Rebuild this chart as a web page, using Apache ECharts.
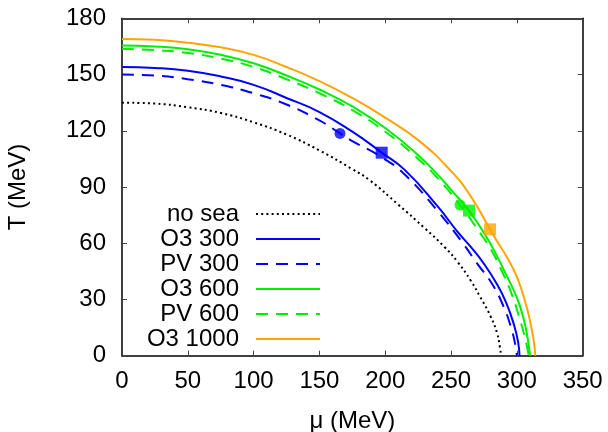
<!DOCTYPE html>
<html>
<head>
<meta charset="utf-8">
<script src="https://cdn.jsdelivr.net/npm/echarts@6/dist/echarts.min.js"></script>
<style>
  html, body { margin: 0; padding: 0; background: #fff; }
  #chart { width: 608px; height: 432px; }
</style>
</head>
<body>
<div id="chart"></div>
<script>
// Transition lines T(mu), points as [mu (MeV), T (MeV)]
const noSea = [[0,135],[25,134.5],[50,132.5],[75,129.5],[100,124.5],[125,118],[150,109.5],[175,99.5],[188,93.7],[210,80.5],[230,68],[245,58],[255,50],[265,40],[272,31.5],[280,21],[285,12],[287,5],[288,0]];
const o3_300 = [[0,154],[25,153.5],[50,152],[75,149],[100,144.5],[125,137.5],[150,130],[175,119.5],[197,108.5],[215,99],[240,79.5],[255,66],[265,58],[275,49],[285,38],[292,28],[298,16],[301,7],[302,0]];
const pv_300 = [[0,150],[25,149.5],[50,147.5],[75,144.5],[100,140],[125,134],[150,125.5],[165.6,118.6],[175,114.5],[197,106],[215,96.5],[240,77],[259,60],[270,49],[281,38.5],[290,26],[296,14],[299,5],[300,0]];
const o3_600 = [[0,165.5],[25,165],[50,163.5],[75,160.5],[100,156],[125,149.5],[150,142],[175,133],[200,121.5],[225,107],[240,96.5],[250,88.5],[263.6,77.4],[278,62],[285,53],[292,43],[300,31],[305,20],[308,10],[310,0]];
const pv_600 = [[0,163.7],[25,163],[50,161.5],[75,158.5],[100,154],[125,147.5],[150,140],[175,131],[200,119.5],[225,105],[240,94.5],[256.8,80.4],[270,67.5],[280,57],[288,46],[296,33],[302,20],[306,10],[309,0]];
const o3_1000 = [[0,169],[25,168.5],[50,167],[75,164.5],[100,160.5],[125,154],[150,146.5],[175,137.5],[200,127],[225,115],[250,98.5],[265,85],[279.6,67.4],[285,61],[292,53],[300,42],[307,27],[311,15],[313,7],[314,0]];

// Critical end points
const cepPV300 = [165.6, 118.6];
const cepO3300 = [197.3, 108.3];
const cepPV600 = [256.8, 80.4];
const cepO3600 = [263.6, 77.4];
const cepO31000 = [279.6, 67.4];

const legendNames = ['no sea', 'O3 300', 'PV 300', 'O3 600', 'PV 600', 'O3 1000'];

const BLUE = '#0000ff';
const GREEN = '#00ee00';
const ORANGE = '#ffa500';
const FONT = 'Liberation Sans';
const DASH = [12, 8];
const DOT = [2, 3.2];

function line(name, data, color, type, width) {
  return {
    name: name, type: 'line', data: data,
    xAxisIndex: 0, yAxisIndex: 0,
    symbol: 'none', smooth: 0.5,
    lineStyle: { color: color, width: width || 2, type: type || 'solid', cap: 'butt' },
    itemStyle: { color: color },
    z: 2
  };
}
function marker(data, color, shape, size) {
  return {
    type: 'scatter', data: [data],
    xAxisIndex: 0, yAxisIndex: 0,
    symbol: shape, symbolSize: size,
    itemStyle: { color: color },
    z: 5, silent: true
  };
}

const axisCommon = {
  type: 'value',
  axisLine: { show: true, onZero: false, lineStyle: { color: '#000', width: 1.5 } },
  axisTick: { show: true, inside: true, length: 5, lineStyle: { color: '#444', width: 1 } },
  splitLine: { show: false }
};

const chart = echarts.init(document.getElementById('chart'), null, { renderer: 'canvas' });
chart.setOption({
  animation: false,
  backgroundColor: '#fff',
  textStyle: { fontFamily: FONT },
  grid: { left: 122, right: 25.3, top: 18.3, bottom: 76.3, containLabel: false, outerBoundsMode: 'none' },
  xAxis: [
    Object.assign({}, axisCommon, {
      position: 'bottom', min: 0, max: 350, interval: 50,
      axisLabel: { show: true, margin: 14, fontSize: 24, fontFamily: FONT, color: '#000' },
      name: 'μ (MeV)', nameLocation: 'middle', nameGap: 54,
      nameTextStyle: { fontSize: 24, fontFamily: FONT, color: '#000' }
    }),
    Object.assign({}, axisCommon, {
      position: 'top', min: 0, max: 350, interval: 50,
      axisLabel: { show: false }
    })
  ],
  yAxis: [
    Object.assign({}, axisCommon, {
      position: 'left', min: 0, max: 180, interval: 30,
      axisLabel: { show: true, margin: 16, fontSize: 24, fontFamily: FONT, color: '#000' },
      name: 'T (MeV)', nameLocation: 'middle', nameGap: 92,
      nameTextStyle: { fontSize: 24, fontFamily: FONT, color: '#000' }
    }),
    Object.assign({}, axisCommon, {
      position: 'right', min: 0, max: 180, interval: 30,
      axisLabel: { show: false }
    })
  ],
  legend: {
    data: legendNames,
    orient: 'vertical', align: 'right',
    right: 287, top: 202, padding: 0,
    itemWidth: 64, itemHeight: 14, itemGap: 1,
    selectedMode: false,
    itemStyle: { opacity: 0 },
    textStyle: { fontSize: 24, fontFamily: FONT, color: '#000', lineHeight: 24, padding: [0, 12, 0, 0] }
  },
  series: [
    line('no sea', noSea, '#000', DOT, 2),
    line('O3 300', o3_300, BLUE, 'solid', 2),
    line('PV 300', pv_300, BLUE, DASH, 2),
    line('O3 600', o3_600, GREEN, 'solid', 2),
    line('PV 600', pv_600, GREEN, DASH, 2),
    line('O3 1000', o3_1000, ORANGE, 'solid', 2),
    marker(cepPV300, BLUE, 'circle', 11),
    marker(cepO3300, BLUE, 'rect', 12),
    marker(cepPV600, GREEN, 'circle', 11),
    marker(cepO3600, GREEN, 'rect', 12),
    marker(cepO31000, ORANGE, 'rect', 12)
  ]
});
</script>
</body>
</html>
